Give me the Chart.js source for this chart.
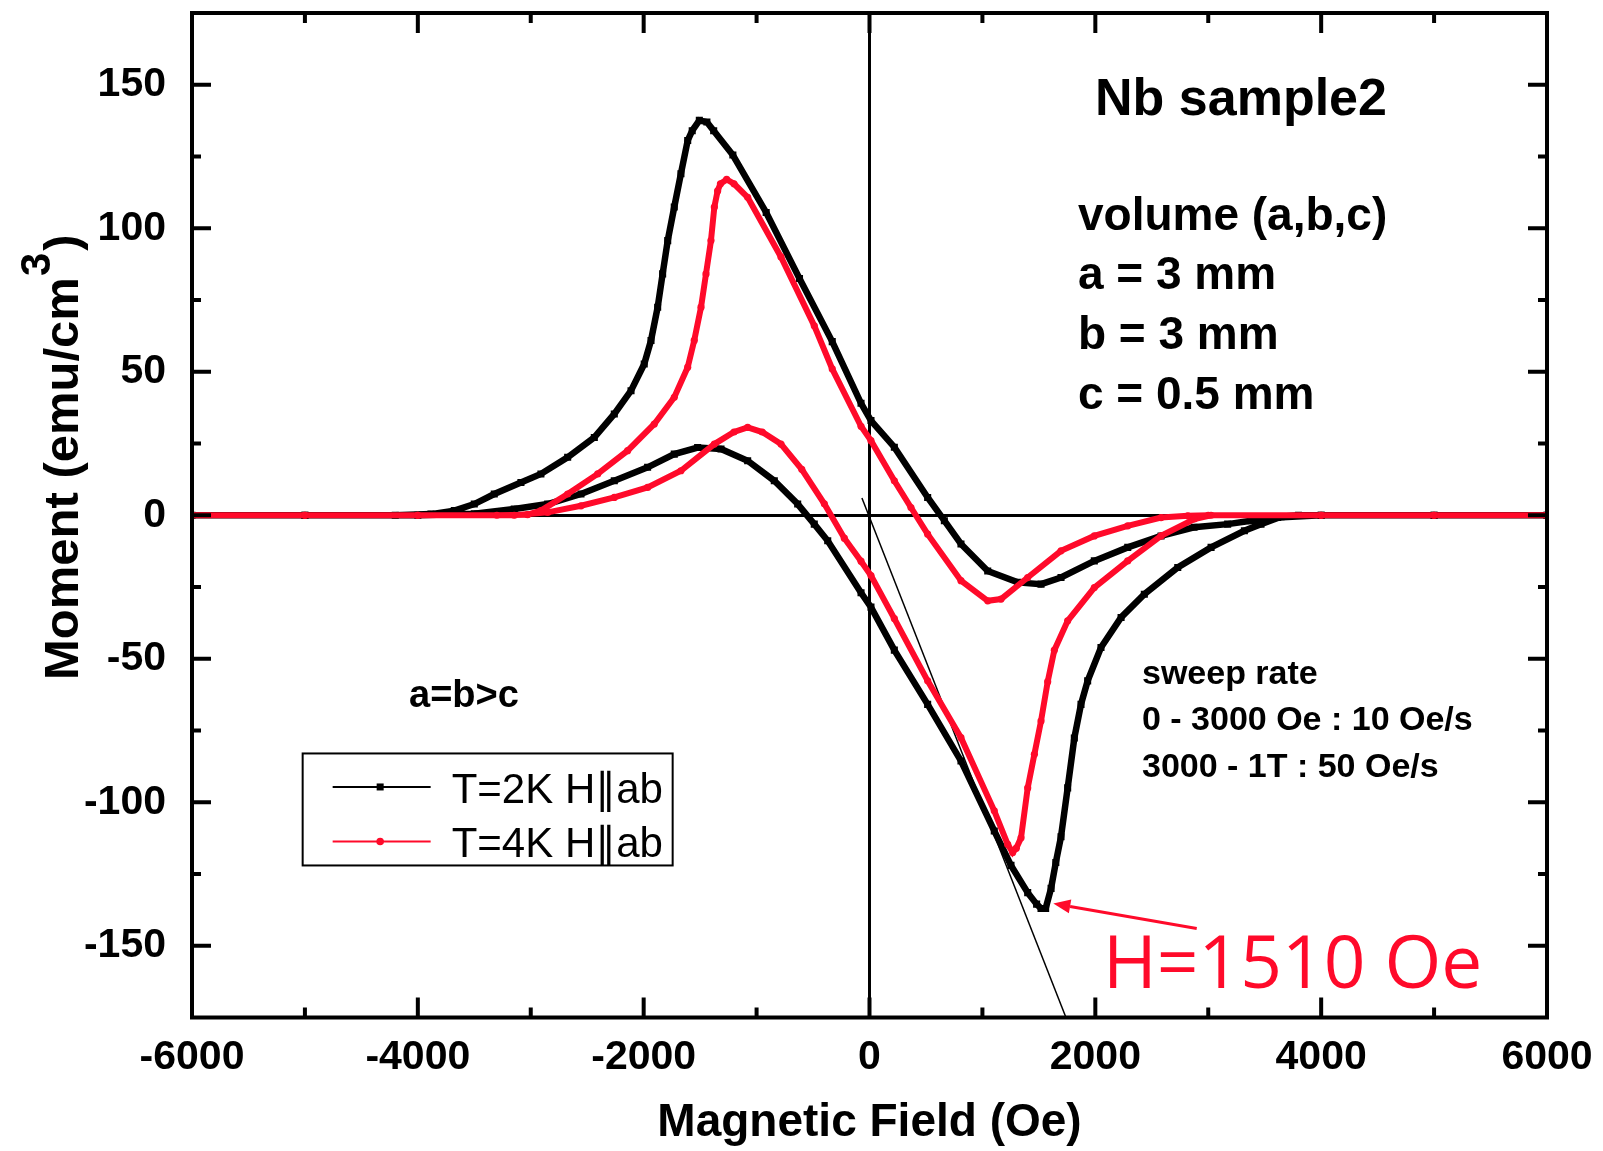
<!DOCTYPE html>
<html>
<head>
<meta charset="utf-8">
<script src="https://cdn.jsdelivr.net/npm/chart.js@4.4.0/dist/chart.umd.min.js"></script>
<style>
  html, body { margin: 0; padding: 0; background: #fff; }
  #wrap { width: 1603px; height: 1151px; }
</style>
</head>
<body>
<div id="wrap"><canvas id="loopChart"></canvas></div>
<script>
// T=2K, one full loop: from +6000 Oe down to -6000 Oe and back up
let field2K = [6000, 5000, 4000, 3615, 3379, 3172, 2874, 2582, 2287, 1991, 1696, 1519, 1313, 1047, 810, 663, 515, 220, 13, -75,
  -330, -620, -915, -1210, -1380, -1440, -1507, -1570, -1610, -1670, -1729, -1787, -1832, -1876, -1935, -1995, -2112, -2260, -2437, -2673,
  -2910, -3087, -3323, -3500, -3677, -3884, -4200, -5000, -6000,
  -5000, -4000, -3500, -3146, -2850, -2555, -2260, -1965, -1729, -1522, -1315, -1079, -843, -636, -489, -370, -75, 13, 220, 515,
  810, 1105, 1253, 1401, 1480, 1519, 1560, 1608, 1650, 1696, 1755, 1814, 1873, 1932, 2050, 2228, 2434, 2730, 3025, 3320,
  3467, 3645, 3800, 4000, 5000, 6000];
let moment2K = [0, 0, 0, -0.8, -1.9, -3.1, -4.2, -7.2, -11.2, -15.9, -21.7, -24, -23.4, -19.4, -10, -1.9, 6.2, 23.7, 33, 39,
  60.5, 82.5, 105.5, 125.5, 134, 137, 137.6, 134, 130.6, 119, 107.4, 95.7, 84.1, 72.5, 60.9, 52.7, 43.4, 35.3, 27.1, 20.2,
  14.4, 11.4, 7.4, 3.9, 1.6, 0.4, 0, 0, 0,
  0, 0, 0.5, 2.2, 3.9, 7.4, 12, 16.7, 21.3, 23.6, 23.1, 19, 12, 3.9, -3.1, -8.9, -27, -32, -47, -65.9,
  -85.6, -110, -122, -131.5, -135.5, -137, -137, -130, -121, -112, -95, -77.6, -65.9, -57.7, -46.1, -35.6, -27.5, -18.2, -11.2, -5.4,
  -3.1, -0.5, 0, 0, 0, 0];

// T=4K, same sweep
let field4K = [6000, 5000, 4000, 3000, 2819, 2582, 2287, 1991, 1696, 1401, 1165, 1047, 810, 515, 367, 220, 13, -75, -330, -489,
  -784, -1079, -1200, -1265, -1320, -1345, -1374, -1404, -1448, -1492, -1552, -1610, -1729, -1906, -2142, -2407, -2673, -2910, -3028, -3300,
  -4000, -5000, -6000,
  -5000, -4000, -3146, -2850, -2555, -2260, -1965, -1670, -1374, -1200, -1079, -950, -784, -600, -400, -223, -75, 13, 220, 515,
  810, 1105, 1224, 1268, 1300, 1342, 1401, 1460, 1519, 1578, 1637, 1755, 1991, 2287, 2582, 2877, 3025, 4000, 5000, 6000];
let moment4K = [0, 0, 0, 0, -0.2, -0.8, -3.7, -7.2, -12.4, -21.7, -29.2, -29.8, -22.8, -6.6, 2.7, 12, 26, 31, 51, 66,
  90, 110.8, 115.5, 117, 115.5, 113, 107.4, 95.7, 84.1, 72.5, 60.9, 51.6, 41.1, 31.8, 22.5, 14.4, 7.4, 1.6, 0.2, 0,
  0, 0, 0,
  0, 0, 0, 1, 3.3, 6.2, 9.7, 15.5, 24.8, 29, 30.6, 29, 24.8, 16, 4, -8, -16, -21, -36, -57.7,
  -77.5, -103, -114.7, -117.5, -116, -112.4, -95, -83.3, -71.7, -58, -47, -36.8, -25.2, -15.9, -7.2, -1.3, 0, 0, 0, 0];

// straight line through the low-field part
let fitField = [-67, 1740];
let fitMoment = [6, -175];

let xTicks = [-6000, -4000, -2000, 0, 2000, 4000, 6000];
let xMinor = [-5000, -3000, -1000, 1000, 3000, 5000];
let yTicks = [-150, -100, -50, 0, 50, 100, 150];
let yMinor = [-125, -75, -25, 25, 75, 125];

const RED = '#ff0a2a';
const FONT = '"Liberation Sans", Arial, sans-serif';

let pts = (xs, ys) => xs.map((v, i) => ({x: v, y: ys[i]}));

let decor = {
    id : 'decor',
    afterDraw(chart) {
        let {ctx, chartArea : a, scales : {x, y}} = chart;
        let px = v => x.getPixelForValue(v);
        let py = v => y.getPixelForValue(v);
        ctx.save();

        // frame and inward ticks on all four sides
        ctx.strokeStyle = '#000';
        ctx.lineWidth = 4;
        ctx.strokeRect(a.left, a.top, a.right - a.left, a.bottom - a.top);
        ctx.beginPath();
        let xt = (v, len) => {
            ctx.moveTo(px(v), a.bottom); ctx.lineTo(px(v), a.bottom - len);
            ctx.moveTo(px(v), a.top); ctx.lineTo(px(v), a.top + len);
        };
        let yt = (v, len) => {
            ctx.moveTo(a.left, py(v)); ctx.lineTo(a.left + len, py(v));
            ctx.moveTo(a.right, py(v)); ctx.lineTo(a.right - len, py(v));
        };
        xTicks.forEach(v => xt(v, 20));
        xMinor.forEach(v => xt(v, 10));
        yTicks.forEach(v => yt(v, 19));
        yMinor.forEach(v => yt(v, 9));
        ctx.stroke();

        // y title with superscript
        ctx.save();
        ctx.translate(78, 680);
        ctx.rotate(-Math.PI / 2);
        ctx.fillStyle = '#000';
        ctx.textBaseline = 'alphabetic';
        ctx.font = 'bold 49px ' + FONT;
        let t1 = 'Moment (emu/cm';
        ctx.fillText(t1, 0, 0);
        let w1 = ctx.measureText(t1).width;
        ctx.font = 'bold 42px ' + FONT;
        ctx.fillText('3', w1 + 1, -28);
        let w2 = ctx.measureText('3').width;
        ctx.font = 'bold 49px ' + FONT;
        ctx.fillText(')', w1 + w2 + 3, 0);
        ctx.restore();

        // notes
        ctx.fillStyle = '#000';
        ctx.textBaseline = 'alphabetic';
        ctx.textAlign = 'center';
        ctx.font = 'bold 52px ' + FONT;
        ctx.fillText('Nb sample2', px(3290), py(139.5));
        ctx.textAlign = 'left';
        ctx.font = 'bold 46px ' + FONT;
        ctx.fillText('volume (a,b,c)', px(1846), py(99.3));
        ctx.fillText('a = 3 mm', px(1846), py(78.7));
        ctx.fillText('b = 3 mm', px(1846), py(57.8));
        ctx.fillText('c = 0.5 mm', px(1846), py(36.9));
        ctx.font = 'bold 38px ' + FONT;
        ctx.fillText('a=b>c', px(-4078), py(-66.9));
        ctx.font = 'bold 34px ' + FONT;
        ctx.fillText('sweep rate', px(2413), py(-58.9));
        ctx.fillText('0 - 3000 Oe : 10 Oe/s', px(2413), py(-74.9));
        ctx.fillText('3000 - 1T : 50 Oe/s', px(2413), py(-91.3));

        // H=1510 Oe label and arrow
        ctx.fillStyle = RED;
        ctx.strokeStyle = RED;
        ctx.font = '73px "Open Sans", sans-serif';
        ctx.fillText('H=1510 Oe', px(2068), py(-164.8));
        let x0 = px(2898), y0 = py(-144), x1 = px(1628), y1 = py(-135.3);
        let ang = Math.atan2(y1 - y0, x1 - x0);
        let hx = x1 - 17 * Math.cos(ang), hy = y1 - 17 * Math.sin(ang);
        ctx.lineWidth = 3;
        ctx.beginPath();
        ctx.moveTo(x0, y0);
        ctx.lineTo(hx, hy);
        ctx.stroke();
        ctx.beginPath();
        ctx.moveTo(x1, y1);
        ctx.lineTo(hx + 7 * Math.sin(ang), hy - 7 * Math.cos(ang));
        ctx.lineTo(hx - 7 * Math.sin(ang), hy + 7 * Math.cos(ang));
        ctx.closePath();
        ctx.fill();

        // legend box
        let lx = px(-5020), ly = py(-83);
        ctx.fillStyle = '#fff';
        ctx.fillRect(lx, ly, 370, 112);
        ctx.strokeStyle = '#000';
        ctx.lineWidth = 2;
        ctx.strokeRect(lx, ly, 370, 112);
        let items = chart.data.datasets.filter(d => d.inLegend);
        items.sort((p, q) => p.legendRow - q.legendRow);
        items.forEach((d, i) => {
            let rowY = ly + 33.5 + i * 54.5;
            ctx.strokeStyle = d.borderColor;
            ctx.fillStyle = d.borderColor;
            ctx.lineWidth = 2;
            ctx.beginPath();
            ctx.moveTo(lx + 30, rowY);
            ctx.lineTo(lx + 128, rowY);
            ctx.stroke();
            if (d.pointStyle === 'rect') {
                ctx.fillRect(lx + 74, rowY - 3.5, 7, 7);
            } else {
                ctx.beginPath();
                ctx.arc(lx + 77.5, rowY, 3.8, 0, Math.PI * 2);
                ctx.fill();
            }
            ctx.fillStyle = '#000';
            ctx.font = '42px ' + FONT;
            ctx.textBaseline = 'alphabetic';
            ctx.fillText(d.label, lx + 149, rowY + 16);
        });
        ctx.restore();
    }
};

let noEdgePadding = s => { s.paddingTop = 0; s.paddingBottom = 0; s.paddingLeft = 0; s.paddingRight = 0; };

let config = {
    type : 'scatter',
    data : {
        datasets : [{
            label : 'T=4K H\u2225ab',
            data : pts(field4K, moment4K),
            showLine : true,
            borderColor : RED,
            backgroundColor : RED,
            borderWidth : 6,
            pointStyle : 'circle',
            pointRadius : 3.6,
            pointBorderWidth : 0,
            order : 1,
            inLegend : true,
            legendRow : 1
        }, {
            label : 'T=2K H\u2225ab',
            data : pts(field2K, moment2K),
            showLine : true,
            borderColor : '#000',
            backgroundColor : '#000',
            borderWidth : 6.5,
            pointStyle : 'rect',
            pointRadius : 5,
            pointBorderWidth : 0,
            order : 2,
            inLegend : true,
            legendRow : 0
        }, {
            label : 'fit',
            data : pts(fitField, fitMoment),
            showLine : true,
            borderColor : '#000',
            borderWidth : 1.5,
            pointRadius : 0,
            order : 3
        }]
    },
    options : {
        animation : false,
        responsive : true,
        maintainAspectRatio : false,
        devicePixelRatio : 1,
        layout : {padding : {left : 0, top : 13, right : 56, bottom : 0}},
        elements : {line : {tension : 0}},
        plugins : {
            legend : {display : false},
            tooltip : {enabled : false}
        },
        scales : {
            x : {
                type : 'linear',
                min : -6000,
                max : 6000,
                afterBuildTicks : s => { s.ticks = xTicks.map(v => ({value : v})); },
                afterFit : s => { s.height = 133.5; noEdgePadding(s); },
                ticks : {
                    callback : v => String(v),
                    color : '#000',
                    padding : 16,
                    maxRotation : 0,
                    font : {family : FONT, size : 41, weight : 'bold'}
                },
                grid : {
                    drawTicks : false,
                    lineWidth : 3,
                    color : c => (c.tick && c.tick.value === 0) ? '#000' : 'rgba(0,0,0,0)'
                },
                border : {display : false},
                title : {
                    display : true,
                    text : 'Magnetic Field (Oe)',
                    color : '#000',
                    padding : {top : 0, bottom : 0},
                    font : {family : FONT, size : 46, weight : 'bold'}
                }
            },
            y : {
                type : 'linear',
                min : -175,
                max : 175,
                afterBuildTicks : s => { s.ticks = yTicks.map(v => ({value : v})); },
                afterFit : s => { s.width = 192; noEdgePadding(s); },
                ticks : {
                    callback : v => String(v),
                    color : '#000',
                    padding : 26,
                    font : {family : FONT, size : 41, weight : 'bold'}
                },
                grid : {
                    drawTicks : false,
                    lineWidth : 3,
                    color : c => (c.tick && c.tick.value === 0) ? '#000' : 'rgba(0,0,0,0)'
                },
                border : {display : false}
            }
        }
    },
    plugins : [decor]
};

let chart = new Chart(document.getElementById('loopChart'), config);
</script>
</body>
</html>
